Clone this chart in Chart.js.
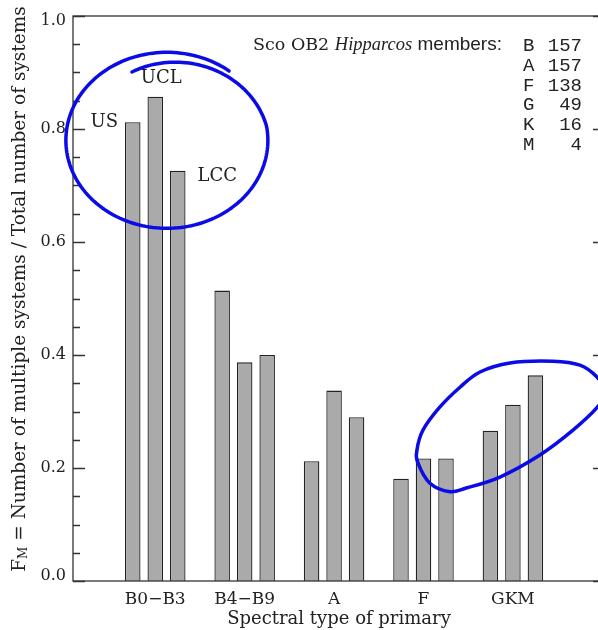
<!DOCTYPE html>
<html>
<head>
<meta charset="utf-8">
<script src="https://cdn.jsdelivr.net/npm/chart.js@4.4.0/dist/chart.umd.min.js"></script>
<style>
  html, body { margin: 0; padding: 0; background: #fff; overflow: hidden; }
  canvas { display: block; }
</style>
</head>
<body>
<canvas id="grafica" width="620" height="630"></canvas>
<script>
// tipos espectrales y fraccion de sistemas multiples por subgrupo
const tipos = ["B0\u2212B3", "B4\u2212B9", "A", "F", "GKM"];
const grupos = ["US", "UCL", "LCC"];
const fracUS = [0.812, 0.514, 0.212, 0.181, 0.266];
const fracUCL = [0.857, 0.387, 0.337, 0.217, 0.312];
const fracLCC = [0.726, 0.400, 0.290, 0.217, 0.364];
const yTicks = [0, 0.2, 0.4, 0.6, 0.8, 1.0];

// miembros Hipparcos por tipo
const miembrosTipo = ["B", "A", "F", "G", "K", "M"];
const miembrosN = [157, 157, 138, 49, 16, 4];

const serif = '"DejaVu Serif", serif';
const txt = "#222";
const azul = "#0b0be8";

// circulo a mano alrededor de B0-B3: centro en unidades de los ejes, radios en px
const circulo1 = { cx: 0.13, cy: 0.78, rx: 101, ry: 88, desde: -114, hasta: 308 };
// circulo a mano alrededor de F/GKM, puntos en unidades de los ejes
const circulo2 = [
  [3.632, 0.370], [3.967, 0.386], [4.448, 0.389], [4.750, 0.382], [4.940, 0.361],
  [5.037, 0.335], [4.947, 0.308], [4.672, 0.267], [4.302, 0.223], [3.855, 0.184],
  [3.486, 0.165], [3.296, 0.158], [3.072, 0.173], [2.938, 0.209], [2.927, 0.232],
  [2.994, 0.267], [3.184, 0.308], [3.408, 0.343]
];

const trazoElipse = (ctx, x, y, c) => {
  const px = x.getPixelForValue(c.cx);
  const py = y.getPixelForValue(c.cy);
  ctx.beginPath();
  for (let d = c.desde; d <= c.hasta; d += 2) {
    const t = (d * Math.PI) / 180;
    // el trazo arranca un poco por dentro y se abre hacia el borde
    const r = 1 - 0.15 * Math.max(0, 1 - (d - c.desde) / 105);
    const qx = px + r * c.rx * Math.cos(t);
    const qy = py + r * c.ry * Math.sin(t);
    if (d === c.desde) ctx.moveTo(qx, qy);
    else ctx.lineTo(qx, qy);
  }
  ctx.stroke();
};

const trazoCerrado = (ctx, pts) => {
  const n = pts.length;
  const P = (i) => pts[(i + n) % n];
  ctx.beginPath();
  ctx.moveTo(pts[0][0], pts[0][1]);
  for (let i = 0; i < n; i++) {
    const p0 = P(i - 1), p1 = P(i), p2 = P(i + 1), p3 = P(i + 2);
    ctx.bezierCurveTo(
      p1[0] + (p2[0] - p0[0]) / 6, p1[1] + (p2[1] - p0[1]) / 6,
      p2[0] - (p3[0] - p1[0]) / 6, p2[1] - (p3[1] - p1[1]) / 6,
      p2[0], p2[1]
    );
  }
  ctx.stroke();
};

const decoraciones = {
  id: "decoraciones",
  afterDatasetsDraw(chart) {
    const { ctx, chartArea: a, scales: { x, y } } = chart;
    ctx.save();

    // marco y ticks hacia adentro
    ctx.strokeStyle = "#333";
    ctx.lineWidth = 1.3;
    ctx.strokeRect(a.left, a.top, a.right - a.left, a.bottom - a.top);
    for (let k = 0; k <= 20; k++) {
      const v = k * 0.05;
      const py = Math.round(y.getPixelForValue(v)) + 0.5;
      const len = k % 4 === 0 ? 12 : 7;
      ctx.beginPath();
      ctx.moveTo(a.left, py); ctx.lineTo(a.left + len, py);
      ctx.moveTo(a.right, py); ctx.lineTo(a.right - len, py);
      ctx.stroke();
    }

    // etiquetas del eje y (las de los extremos un poco hacia dentro)
    ctx.fillStyle = txt;
    ctx.font = "16px " + serif;
    ctx.textAlign = "right";
    ctx.textBaseline = "middle";
    y.ticks.forEach((t) => {
      const py = Math.min(a.bottom - 5, Math.max(a.top + 5, y.getPixelForValue(t.value)));
      ctx.fillText(t.value.toFixed(1), a.left - 7, py);
    });

    // etiquetas de subgrupo
    ctx.font = "18px " + serif;
    const bUS = chart.getDatasetMeta(0).data[0];
    const bUCL = chart.getDatasetMeta(1).data[0];
    const bLCC = chart.getDatasetMeta(2).data[0];
    ctx.textAlign = "right";
    ctx.fillText(grupos[0], bUS.x - bUS.width / 2 - 7, bUS.y);
    ctx.textAlign = "center";
    ctx.fillText(grupos[1], bUCL.x + 6, bUCL.y - 18);
    ctx.textAlign = "left";
    ctx.fillText(grupos[2], bLCC.x + bLCC.width / 2 + 12, bLCC.y + 6);

    // cabecera de miembros
    let cx = 253;
    const cy = 45;
    ctx.font = "17.5px " + serif;
    ctx.fillText("Sco OB2 ", cx, cy);
    cx += ctx.measureText("Sco OB2 ").width;
    ctx.font = 'italic 18.5px "Liberation Serif", serif';
    ctx.fillText("Hipparcos", cx, cy);
    cx += ctx.measureText("Hipparcos").width;
    ctx.font = '19px "Liberation Sans", sans-serif';
    ctx.fillText(" members:", cx, cy);

    ctx.font = '19px "Liberation Mono", monospace';
    miembrosTipo.forEach((t, i) => {
      const ly = 46 + i * 19.8;
      ctx.textAlign = "left";
      ctx.fillText(t, 523, ly);
      ctx.textAlign = "right";
      ctx.fillText(String(miembrosN[i]), 582, ly);
    });

    // titulo eje x
    ctx.font = "18px " + serif;
    ctx.textAlign = "center";
    ctx.fillText("Spectral type of primary", (a.left + a.right) / 2, 619);

    // titulo eje y con subindice
    ctx.translate(20, 289);
    ctx.rotate(-Math.PI / 2);
    const resto = " = Number of multiple systems / Total number of systems";
    ctx.font = "18.5px " + serif;
    const wF = ctx.measureText("F").width;
    const wR = ctx.measureText(resto).width;
    ctx.font = "12px " + serif;
    const wM = ctx.measureText("M").width;
    let tx = -(wF + wM + wR) / 2;
    ctx.textAlign = "left";
    ctx.font = "18.5px " + serif;
    ctx.fillText("F", tx, 0);
    tx += wF;
    ctx.font = "12px " + serif;
    ctx.fillText("M", tx, 4);
    tx += wM;
    ctx.font = "18.5px " + serif;
    ctx.fillText(resto, tx, 0);
    ctx.setTransform(1, 0, 0, 1, 0, 0);

    // circulos azules
    ctx.strokeStyle = azul;
    ctx.lineWidth = 3.5;
    ctx.lineCap = "round";
    ctx.lineJoin = "round";
    trazoElipse(ctx, x, y, circulo1);
    trazoCerrado(ctx, circulo2.map((p) => [x.getPixelForValue(p[0]), y.getPixelForValue(p[1])]));

    ctx.restore();
  }
};

const series = [fracUS, fracUCL, fracLCC];
const canvas = document.getElementById("grafica");
new Chart(canvas, {
  type: "bar",
  data: {
    datasets: grupos.map((g, k) => ({
      label: g,
      data: series[k].map((v, i) => ({ x: i, y: v })),
      backgroundColor: "#aaaaaa",
      borderColor: "#222",
      borderWidth: 1.3,
      categoryPercentage: 0.755,
      barPercentage: 0.69,
    })),
  },
  options: {
    responsive: false,
    animation: false,
    layout: { padding: { left: 0, top: 16, right: 15, bottom: 0 } },
    plugins: { legend: { display: false }, tooltip: { enabled: false } },
    scales: {
      x: {
        type: "linear",
        min: -0.92,
        max: 5.03,
        offset: false,
        grid: { display: false, drawTicks: false },
        border: { display: false },
        afterBuildTicks: (s) => { s.ticks = tipos.map((t, i) => ({ value: i })); },
        afterFit: (s) => { s.height = 49; },
        ticks: {
          callback: (v) => tipos[v],
          font: { family: serif, size: 17 },
          color: txt,
          padding: 8,
          autoSkip: false,
          maxRotation: 0,
        },
      },
      y: {
        min: 0,
        max: 1,
        grid: { display: false, drawTicks: false },
        border: { display: false },
        afterBuildTicks: (s) => { s.ticks = yTicks.map((v) => ({ value: v })); },
        afterFit: (s) => { s.width = 73; },
        ticks: { display: false },
      },
    },
  },
  plugins: [decoraciones],
});
</script>
</body>
</html>
